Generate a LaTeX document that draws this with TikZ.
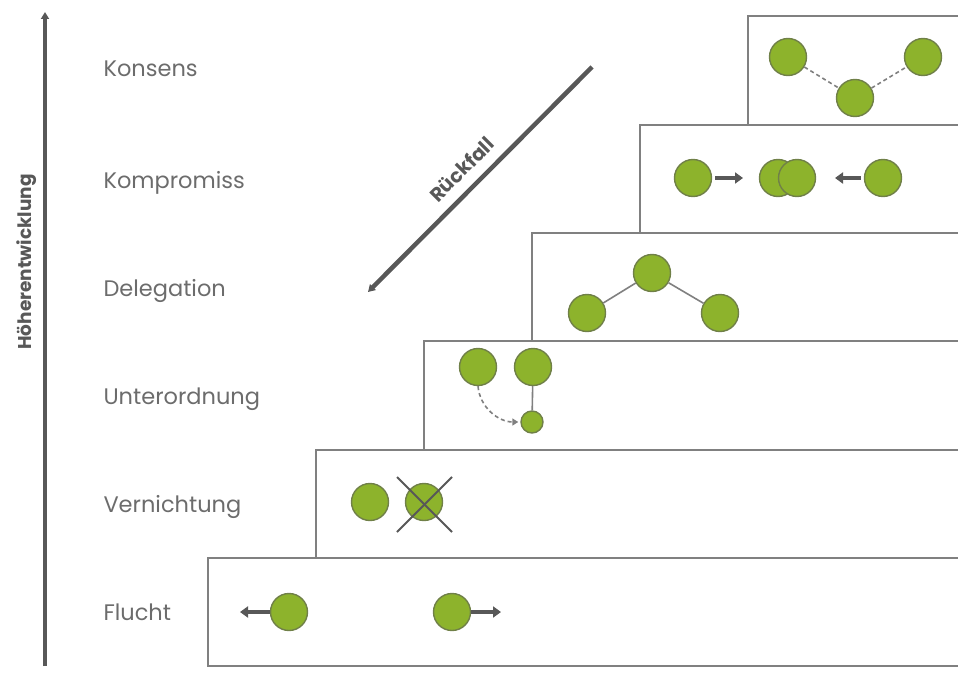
\documentclass[tikz,border=0pt]{standalone}
\usepackage{fontspec}
\setmainfont{Poppins}
\usetikzlibrary{arrows.meta}

\definecolor{ballgreen}{RGB}{141,179,44}
\definecolor{balledge}{RGB}{112,128,72}
\definecolor{stepgray}{RGB}{128,128,128}
\definecolor{textgray}{RGB}{108,108,108}
\definecolor{arrowgray}{RGB}{88,88,88}

\begin{document}
\begin{tikzpicture}[x=1pt, y=-1pt,
  ball/.style={circle, fill=ballgreen, draw=balledge, line width=1.4pt, minimum size=37pt, inner sep=0pt},
  smallball/.style={ball, minimum size=22pt},
  level/.style={anchor=base west, text=textgray, font=\fontsize{22.5}{26}\selectfont},
  stepbox/.style={draw=stepgray, line width=2pt, fill=white},
  push/.style={arrowgray, line width=4.5pt, -{Triangle[length=8pt,width=11pt]}},
  link/.style={stepgray, line width=1.6pt}]

\useasboundingbox (0,0) rectangle (958,677);
\clip (0,0) rectangle (958,677);

%steps
\draw[stepbox] (748,16) rectangle (980,125);
\draw[stepbox] (640,125) rectangle (980,233);
\draw[stepbox] (532,233) rectangle (980,341);
\draw[stepbox] (424,341) rectangle (980,450);
\draw[stepbox] (316,450) rectangle (980,558);
\draw[stepbox] (208,558) rectangle (980,666);

%labels
\node[level] (konsens) at (100,77) {Konsens};
\node[level] (kompromiss) at (100,188) {Kompromiss};
\node[level] (delegation) at (100,296) {Delegation};
\node[level] (unterordnung) at (100,404) {Unterordnung};
\node[level] (vernichtung) at (100,512) {Vernichtung};
\node[level] (flucht) at (100,620) {Flucht};

%axis
\coordinate (axisbot) at (45,666);
\coordinate (axistop) at (45,12);
\draw[arrowgray, line width=4pt, -{Triangle[length=7pt,width=8pt]}] (axisbot) -- (axistop);
\node[rotate=90, text=arrowgray, font=\fontsize{18.5}{22}\selectfont\bfseries] (hoeher) at (27,262) {Höherentwicklung};

%fall back
\coordinate (fallstart) at (592,67);
\coordinate (fallend) at (368,292);
\draw[arrowgray, line width=4.5pt, {Triangle[length=7pt,width=8pt]}-] (fallend) -- (fallstart)
  node[midway, sloped, above=7pt, xshift=-6pt, font=\fontsize{19.5}{22}\selectfont\bfseries] (rueckfall) {Rückfall};

%Konsens
\node[ball] (k1) at (788,57) {};
\node[ball] (k2) at (855,98) {};
\node[ball] (k3) at (923,57) {};
\draw[link, dash pattern=on 4pt off 3pt] (k1) -- (k2);
\draw[link, dash pattern=on 4pt off 3pt] (k2) -- (k3);

%Kompromiss
\node[ball] (c1) at (693,178) {};
\node[ball] (c2) at (778,178) {};
\node[ball] (c3) at (797,178) {};
\node[ball] (c4) at (883,178) {};
\coordinate (c1out) at (743,178);
\coordinate (c4out) at (835,178);
\draw[push] ([xshift=3pt]c1.east) -- (c1out);
\draw[push] ([xshift=-3pt]c4.west) -- (c4out);

%Delegation
\node[ball] (d1) at (587,313) {};
\node[ball] (d2) at (652,273) {};
\node[ball] (d3) at (720,313) {};
\draw[link] (d1) -- (d2);
\draw[link] (d2) -- (d3);

%Unterordnung
\node[ball] (u1) at (478,367) {};
\node[ball] (u2) at (533,367) {};
\node[smallball] (u3) at (532,422) {};
\draw[link] (u2) -- (u3);
\draw[link, dash pattern=on 4pt off 3pt, -{Triangle[length=6pt,width=7pt]}, shorten >=2pt]
  (u1.south) to[out=-85, in=180] (u3.west);

%Vernichtung
\node[ball] (v1) at (370,502) {};
\node[ball] (v2) at (424,502) {};
\draw[arrowgray, line width=2pt] (397,477) -- (452,532);
\draw[arrowgray, line width=2pt] (452,477) -- (397,532);

%Flucht
\node[ball] (f1) at (289,612) {};
\node[ball] (f2) at (452,612) {};
\coordinate (f1out) at (240,612);
\coordinate (f2out) at (501,612);
\draw[push] (f1.west) -- (f1out);
\draw[push] (f2.east) -- (f2out);

\end{tikzpicture}
\end{document}
